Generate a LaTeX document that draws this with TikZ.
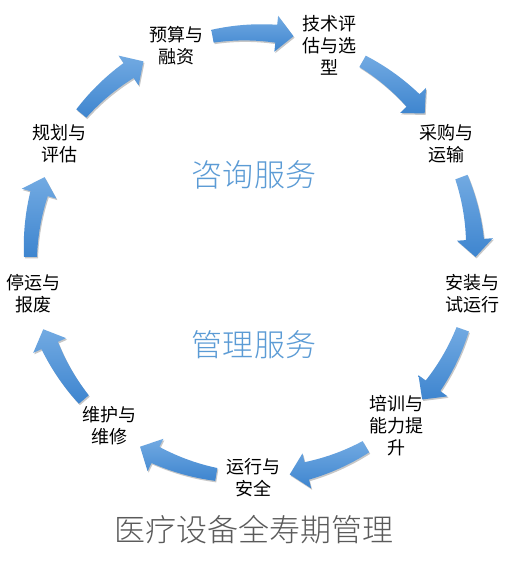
\documentclass[tikz,border=0pt]{standalone}
\usepackage{fontspec}
\setmainfont{Noto Sans CJK SC}
\newfontfamily\cjklight{Noto Sans CJK SC Light}
\usetikzlibrary{shadows}
\definecolor{arrowtop}{HTML}{72AAE2}
\definecolor{arrowbot}{HTML}{3E85CF}
\definecolor{svcblue}{HTML}{5B9BD5}
\definecolor{titlegray}{HTML}{5A5A5A}
\tikzset{
  stage/.style={align=center, font=\fontsize{18}{22}\selectfont, text=black, inner sep=0pt},
  cyclearrow/.style={top color=arrowtop, bottom color=arrowbot, draw=none,
    drop shadow={opacity=0.22, shadow xshift=1pt, shadow yshift=-1.5pt, fill=black}},
  service/.style={font=\cjklight\fontsize{31}{34}\selectfont, text=svcblue, inner sep=0pt},
  maintitle/.style={font=\cjklight\fontsize{31}{34}\selectfont, text=titlegray, inner sep=0pt},
}
\begin{document}
\begin{tikzpicture}[x=1pt,y=1pt]
\useasboundingbox[fill=white] (-253,-312) rectangle (252,255);
\coordinate (c) at (0,0);
% cycle arrows (tapered body, head pointing clockwise)
\foreach \m in {90,50,10,-30,-70,-110,-150,-190,-230} {
  \pgfmathsetmacro\a{\m+10.5}
  \pgfmathsetmacro\b{\m-10.5+4.5}
  \pgfmathsetmacro\t{\m-10.5}
  \path[cyclearrow]
     plot[domain=\a:\b, samples=16] (\x:{222.5-6.5-2.5*(\a-\x)/(\a-\b)})
     -- (\b:204.5) -- (\t:222.5) -- (\b:240.5)
     -- plot[domain=\b:\a, samples=16] (\x:{222.5+6.5+2.5*(\a-\x)/(\a-\b)})
     -- cycle;
}
% stages
\node[stage] (plan)    at (150:223pt) {规划与\\评估};
\node[stage] (budget)  at (110:223pt) {预算与\\融资};
\node[stage] (tech)    at (70:223pt)  {技术评\\估与选\\型};
\node[stage] (buy)     at (30:223pt)  {采购与\\运输};
\node[stage] (install) at (-10:223pt) {安装与\\试运行};
\node[stage] (train)   at (-50:223pt) {培训与\\能力提\\升};
\node[stage] (run)     at (-90:223pt) {运行与\\安全};
\node[stage] (maint)   at (-130:223pt) {维护与\\维修};
\node[stage] (retire)  at (-170:223pt) {停运与\\报废};
% service labels
\node[service] (consult) at (1,80) {咨询服务};
\node[service] (manage)  at (1,-90) {管理服务};
\node[maintitle] (title) at (1,-275) {医疗设备全寿期管理};
\end{tikzpicture}
\end{document}
